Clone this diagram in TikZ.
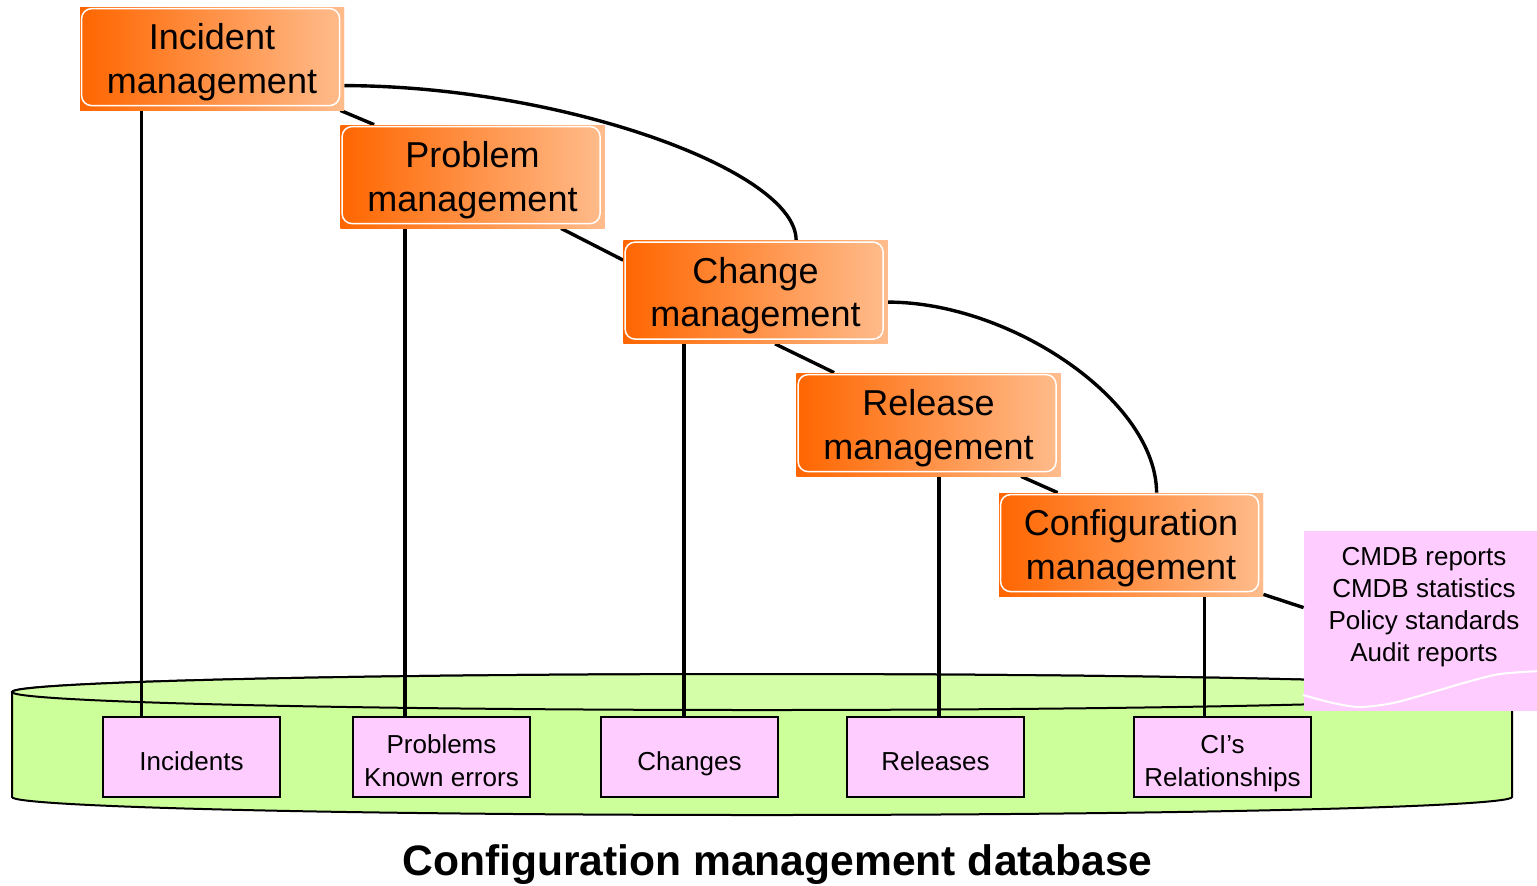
\documentclass[tikz,border=0pt]{standalone}
\usepackage{fontspec}
\setmainfont{Liberation Sans}
\definecolor{mgmtDark}{HTML}{FF6600}
\definecolor{mgmtLight}{HTML}{FFBC8C}
\definecolor{recPink}{HTML}{FFCCFF}
\definecolor{dbBody}{HTML}{CCFF99}
\definecolor{dbTop}{HTML}{D4FFA8}
% centred rows, with extra room above the first row to set the text lower
\newcommand\textrows[1]{\begin{tabular}{@{}c@{}}\rule{0pt}{\rowlead}#1\end{tabular}}
\def\rowlead{0pt}
\tikzset{
  mgmt/.style={rectangle, inner sep=0pt, minimum width=132pt, minimum height=51.5pt,
    left color=mgmtDark, right color=mgmtLight,
    font=\fontsize{18}{21.85}\selectfont,
    execute at begin node={\def\rowlead{19.4pt}},
    path picture={\draw[white, line width=0.75pt, rounded corners=5pt]
      ([xshift=0.8pt,yshift=-0.8pt]path picture bounding box.north west) rectangle
      ([xshift=-2.2pt,yshift=2.2pt]path picture bounding box.south east);}},
  record/.style={rectangle, draw=black, line width=1pt, fill=recPink, inner sep=0pt,
    minimum width=88.5pt, minimum height=40pt,
    font=\fontsize{13}{16.7}\selectfont,
    execute at begin node={\def\rowlead{18pt}}},
  notebox/.style={rectangle, fill=recPink, inner sep=0pt, minimum width=120pt, minimum height=90pt},
  notetxt/.style={align=center, inner sep=0pt, font=\fontsize{13}{16}\selectfont},
  link/.style={line width=1.7pt, black},
  dbline/.style={line width=1pt, black},
}
\begin{document}
\begin{tikzpicture}[x=0.5pt, y=-0.5pt]
\useasboundingbox (0,0) rectangle (1537,885);

% database cylinder
\filldraw[dbline, fill=dbBody] (12,692) -- (12,797) arc(180:0:750 and 18) -- (1512,692) arc(0:-180:750 and 18) -- cycle;
\filldraw[dbline, fill=dbTop] (762,692) ellipse (750 and 18);

% process boxes
\node[mgmt] (inc) at (212,58.5) {\textrows{Incident\\management}};
\node[mgmt] (prob) at (472.5,176.5) {\textrows{Problem\\management}};
\node[mgmt] (chg) at (755.5,292) {\textrows{Change\\management}};
\node[mgmt] (rel) at (928.5,424.5) {\textrows{Release\\management}};
\node[mgmt] (cfg) at (1131,544.5) {\textrows{Configuration\\management}};

% records stored in the database
\node[record] (incd) at (191.5,757) {\textrows{Incidents}};
\node[record] (probd) at (441.5,757) {\textrows{Problems\\Known errors}};
\node[record] (chgd) at (689.5,757) {\textrows{Changes}};
\node[record] (reld) at (935.5,757) {\textrows{Releases}};
\node[record] (cfgd) at (1222.5,757) {\textrows{CI’s\\Relationships}};

% report sheet
\node[notebox] (note) at (1424,621) {};
\node[notetxt] (notetext) at ([yshift=7pt]note.center) {CMDB reports\\CMDB statistics\\Policy standards\\Audit reports};
\draw[white, line width=1pt] plot[smooth] coordinates {(1303,695) (1333,703) (1360,707) (1393,703) (1433,692) (1467,682) (1500,674) (1540,671)};

% vertical links to the records
\draw[link] ([xshift=31pt]inc.south west) -- ([xshift=31pt]inc.south west |- incd.north);
\draw[link] ([xshift=32.5pt]prob.south west) -- ([xshift=32.5pt]prob.south west |- probd.north);
\draw[link] ([xshift=30.5pt]chg.south west) -- ([xshift=30.5pt]chg.south west |- chgd.north);
\draw[link] ([xshift=71.5pt]rel.south west) -- ([xshift=71.5pt]rel.south west |- reld.north);
\draw[link] ([xshift=103pt]cfg.south west) -- ([xshift=103pt]cfg.south west |- cfgd.north);

% chain between the processes
\draw[link] ([xshift=-2pt]inc.south east) -- ([xshift=17pt]prob.north west);
\draw[link] ([xshift=110.5pt]prob.south west) -- ([yshift=-10pt]chg.north west);
\draw[link] ([xshift=76pt]chg.south west) -- ([xshift=19pt]rel.north west);
\draw[link] ([xshift=112.5pt]rel.south west) -- ([xshift=29.5pt]cfg.north west);
\draw[link] ([yshift=1pt]cfg.south east) -- ([yshift=-38.5pt]note.north west);

% change feedback arcs
\draw[link] ([yshift=-39.5pt]inc.north east) .. controls (560,86) and (796,170) .. ([xshift=86.5pt]chg.north west);
\draw[link] ([yshift=-31pt]chg.north east) .. controls (1010,302) and (1156,400) .. ([xshift=79pt]cfg.north west);

% redraw boxes above the links
\node[mgmt] at (inc) {\textrows{Incident\\management}};
\node[mgmt] at (prob) {\textrows{Problem\\management}};
\node[mgmt] at (chg) {\textrows{Change\\management}};
\node[mgmt] at (rel) {\textrows{Release\\management}};
\node[mgmt] at (cfg) {\textrows{Configuration\\management}};

% caption
\node[font=\fontsize{21.3}{25}\selectfont\bfseries, inner sep=0pt] (title) at (777.5,865) {Configuration management database};
\end{tikzpicture}
\end{document}
